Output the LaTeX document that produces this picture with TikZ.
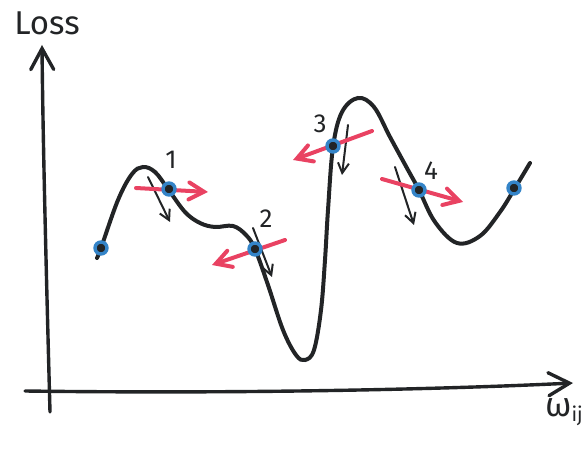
\documentclass[tikz,border=0pt]{standalone}
\usepackage{fontspec}
\setmainfont{Fira Sans}
\usetikzlibrary{arrows.meta}
\definecolor{inkblack}{RGB}{34,36,38}
\definecolor{steppink}{RGB}{233,66,98}
\definecolor{dotblue}{RGB}{52,132,200}
\tikzset{
    axisline/.style={draw=inkblack, line width=3.4pt, line cap=round, -{Straight Barb[length=21pt, width=23pt, line cap=round]}},
    losscurve/.style={draw=inkblack, line width=4pt, line cap=round},
    slopearrow/.style={draw=inkblack, line width=2pt, line cap=round, -{Straight Barb[length=10pt, width=11pt]}},
    steparrow/.style={draw=steppink, line width=4pt, line cap=round, -{Straight Barb[length=15pt, width=17pt, line cap=round]}},
    pointdot/.style={circle, draw=dotblue, fill=inkblack, line width=3.4pt, minimum size=12pt, inner sep=0pt},
    axislabel/.style={font=\fontsize{33}{36}\selectfont, text=inkblack, inner sep=0pt},
    steplabel/.style={font=\fontsize{26}{28}\selectfont, text=inkblack, inner sep=0pt}
}

\begin{document}
\begin{tikzpicture}[x=1pt, y=-1pt]
    \useasboundingbox (0,0) rectangle (584,449);
    % axes
    \coordinate (orig) at (50,412);
    \coordinate (ytop) at (42,45);
    \coordinate (xleft) at (25,391);
    \coordinate (xright) at (573,383);
    \draw[axisline] (orig) .. controls (47,300) and (43,150) .. (ytop);
    \draw[axisline] (xleft) .. controls (250,394) and (450,389) .. (xright);
    \node[axislabel] (loss) at (47,23) {Loss};
    \node[axislabel, anchor=north east, font=\fontsize{34}{36}\selectfont\mdseries] (wij) at (583,398)
        {ω\raisebox{-0.3ex}{\fontsize{20}{22}\selectfont ij}};

    % loss landscape
    \draw[losscurve] plot[smooth, tension=0.6] coordinates {
        (97,258) (101,248) (118,200) (132,174) (143,167) (155,172) (168,189)
        (185,212) (200,223) (215,227) (233,226) (246,235) (255,249)
        (268,285) (283,330) (296,355) (305,360) (314,350) (321,310) (325,260)
        (328,210) (333,147) (342,112) (358,98) (374,107) (390,137)
        (408,170) (419,190) (435,222) (457,243) (480,236) (500,212) (515,188) (530,163)};

    % gradient direction along the curve
    \coordinate (g1a) at (148,177); \coordinate (g1b) at (170,222);
    \coordinate (g2a) at (253,228); \coordinate (g2b) at (272,277);
    \coordinate (g3a) at (348,125); \coordinate (g3b) at (342,175);
    \coordinate (g4a) at (395,167); \coordinate (g4b) at (414,225);
    \draw[slopearrow] (g1a) -- (g1b);
    \draw[slopearrow] (g2a) -- (g2b);
    \draw[slopearrow] (g3a) -- (g3b);
    \draw[slopearrow] (g4a) -- (g4b);

    % update steps
    \coordinate (s1a) at (136,188); \coordinate (s1b) at (208,192);
    \coordinate (s2a) at (285,240); \coordinate (s2b) at (212,265);
    \coordinate (s3a) at (372,131); \coordinate (s3b) at (293,160);
    \coordinate (s4a) at (382,179); \coordinate (s4b) at (463,202);
    \draw[steparrow] (s1a) -- (s1b);
    \draw[steparrow] (s2a) -- (s2b);
    \draw[steparrow] (s3a) -- (s3b);
    \draw[steparrow] (s4a) -- (s4b);

    % points on the curve
    \node[pointdot] (p0) at (101,248) {};
    \node[pointdot] (p1) at (169,189) {};
    \node[pointdot] (p2) at (255,249) {};
    \node[pointdot] (p3) at (333,146) {};
    \node[pointdot] (p4) at (419,190) {};
    \node[pointdot] (p5) at (514,188) {};

    \node[steplabel] (n1) at (171,160) {1};
    \node[steplabel] (n2) at (266,219) {2};
    \node[steplabel] (n3) at (320,124) {3};
    \node[steplabel] (n4) at (431,171) {4};
\end{tikzpicture}
\end{document}
